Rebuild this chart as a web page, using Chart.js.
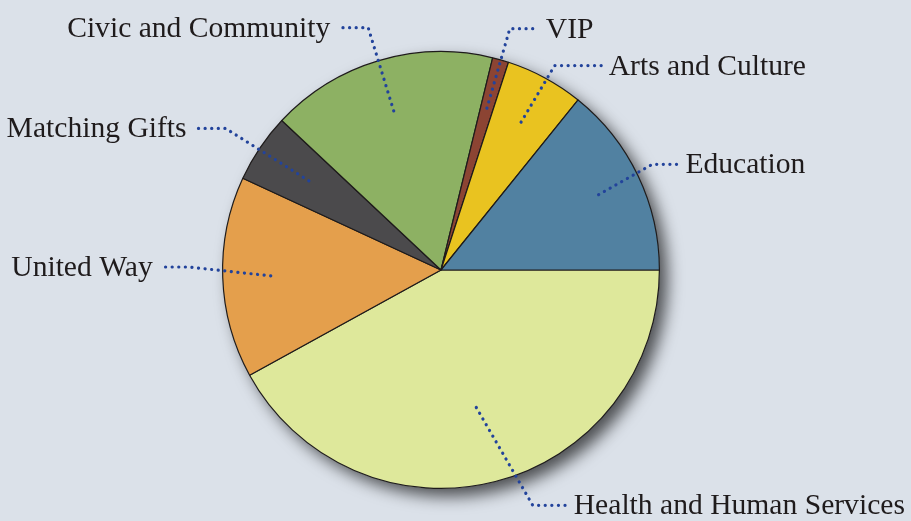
<!DOCTYPE html>
<html>
<head>
<meta charset="utf-8">
<script src="https://cdn.jsdelivr.net/npm/chart.js@4/dist/chart.umd.min.js"></script>
<style>
  html, body { margin: 0; padding: 0; background: #dbe1e9; }
  #wrap { width: 911px; height: 521px; position: relative; }
</style>
</head>
<body>
<div id="wrap"><canvas id="givingPie"></canvas></div>
<script>
  // slices, clockwise from 3 o'clock
  const categories = ['Health and Human Services', 'United Way', 'Matching Gifts', 'Civic and Community', 'VIP', 'Arts and Culture', 'Education'];
  const shares = [42.0, 14.9, 5.1, 16.8, 1.2, 5.8, 14.2];
  const sliceColors = ['#dee89b', '#e49f4c', '#4b4a4c', '#8db163', '#8c4433', '#e9c320', '#5181a1'];

  // leader lines: start at frac * radius on the slice middle, go to elbow (offset from centre), then run sideways
  const leaders = [
    { frac: 0.65, ex: 92,   ey: 236,  run: 34 },
    { frac: 0.78, ex: -253, ey: -3,   run: -27 },
    { frac: 0.73, ex: -216, ey: -142, run: -30 },
    { frac: 0.76, ex: -73,  ey: -243, run: -29 },
    { frac: 0.77, ex: 69,   ey: -242, run: 29 },
    { frac: 0.77, ex: 114,  ey: -205, run: 47 },
    { frac: 0.80, ex: 212,  ey: -106, run: 26 }
  ];

  const pieShadow = {
    id: 'pieShadow',
    beforeDatasetsDraw(chart) {
      const arc = chart.getDatasetMeta(0).data[0];
      if (!arc) return;
      const ctx = chart.ctx;
      ctx.save();
      ctx.shadowColor = 'rgba(0,0,0,0.65)';
      ctx.shadowBlur = 16;
      ctx.shadowOffsetX = 8;
      ctx.shadowOffsetY = 8;
      ctx.fillStyle = '#dbe1e9';
      ctx.beginPath();
      ctx.arc(arc.x, arc.y, arc.outerRadius, 0, Math.PI * 2);
      ctx.fill();
      ctx.restore();
    }
  };

  const leaderLabels = {
    id: 'leaderLabels',
    afterDatasetsDraw(chart) {
      const ctx = chart.ctx;
      const arcs = chart.getDatasetMeta(0).data;
      ctx.save();
      arcs.forEach((arc, i) => {
        const L = leaders[i];
        const mid = (arc.startAngle + arc.endAngle) / 2;
        const r = arc.outerRadius;
        const k = r / 219;
        const sx = arc.x + Math.cos(mid) * r * L.frac;
        const sy = arc.y + Math.sin(mid) * r * L.frac;
        const ex = arc.x + L.ex * k;
        const ey = arc.y + L.ey * k;
        const endX = ex + L.run;

        ctx.strokeStyle = '#22439b';
        ctx.lineWidth = 3.2;
        ctx.lineCap = 'round';
        ctx.setLineDash([0.1, 6.5]);
        ctx.beginPath();
        ctx.moveTo(sx, sy);
        ctx.lineTo(ex, ey);
        ctx.lineTo(endX, ey);
        ctx.stroke();

        ctx.setLineDash([]);
        ctx.fillStyle = '#1f1b1c';
        ctx.font = '29.6px "Liberation Serif", serif';
        ctx.textBaseline = 'alphabetic';
        if (L.run > 0) {
          ctx.textAlign = 'left';
          ctx.fillText(categories[i], endX + 7, ey + 9);
        } else {
          ctx.textAlign = 'right';
          ctx.fillText(categories[i], endX - 9, ey + 9);
        }
      });
      ctx.restore();
    }
  };

  new Chart(document.getElementById('givingPie'), {
    type: 'pie',
    data: {
      labels: categories,
      datasets: [{
        data: shares,
        backgroundColor: sliceColors,
        borderColor: '#1e1b1b',
        borderWidth: 1.2
      }]
    },
    options: {
      responsive: true,
      maintainAspectRatio: false,
      animation: false,
      rotation: 90,
      layout: { padding: { top: 51, bottom: 32, left: 0, right: 29 } },
      plugins: {
        legend: { display: false },
        tooltip: { enabled: false }
      }
    },
    plugins: [pieShadow, leaderLabels]
  });
</script>
</body>
</html>
